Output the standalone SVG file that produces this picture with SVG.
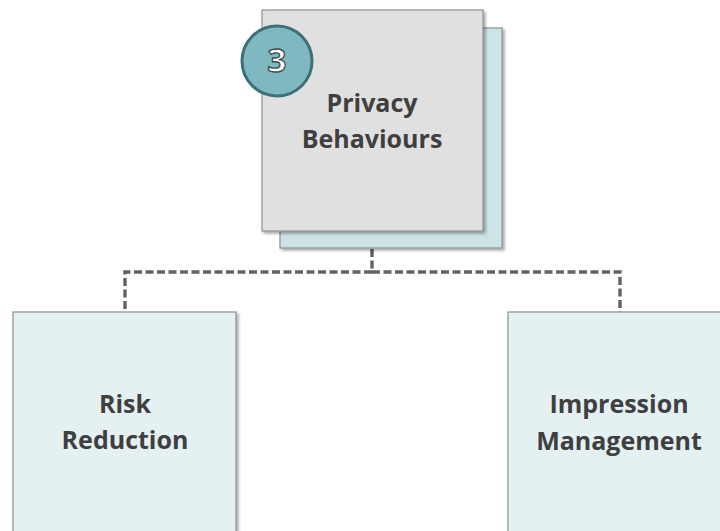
<svg xmlns="http://www.w3.org/2000/svg" width="720" height="531" viewBox="0 0 720 531">
  <style>
    .box { stroke: #8f8f8f; stroke-width: 1.2; filter: url(#shadow); }
    .main { fill: #e0e0e0; }
    .back { fill: #cde3e6; }
    .leaf { fill: #e4f0f2; }
    .label { font-family: "Open Sans", "Noto Sans", "Liberation Sans", sans-serif; font-weight: 700; font-size: 25px; fill: #3f3f3f; text-anchor: middle; }
    .link { fill: none; stroke: #626262; stroke-width: 3.4; stroke-dasharray: 8 3.5; }
    .badge { fill: #7fb8c1; stroke: #3d7076; stroke-width: 3; }
    .num { font-family: "Open Sans", "Noto Sans", "Liberation Sans", sans-serif; font-weight: 700; font-size: 33px; fill: #ffffff; stroke: #3a4a4c; stroke-width: 1.3; text-anchor: middle; }
  </style>
  <defs>
    <filter id="shadow" x="-10%" y="-10%" width="130%" height="130%">
      <feDropShadow dx="2" dy="2" stdDeviation="1.5" flood-color="#000000" flood-opacity="0.35"/>
    </filter>
  </defs>

  <rect width="720" height="531" fill="#ffffff"/>

  <g id="connectors">
    <path class="link" d="M372 249 V272 H125 V312"/>
    <path class="link" d="M372 272 H620 V312"/>
  </g>

  <g id="privacy-behaviours">
    <rect class="box back" x="280" y="28" width="222" height="220"/>
    <rect class="box main" x="262" y="10" width="221" height="221"/>
    <text class="label" x="372" y="112">Privacy</text>
    <text class="label" x="372" y="148">Behaviours</text>
  </g>

  <g id="badge-3">
    <circle class="badge" cx="277" cy="61" r="35"/>
    <text class="num" x="277" y="72">3</text>
  </g>

  <g id="risk-reduction">
    <rect class="box leaf" x="13" y="312" width="223" height="240"/>
    <text class="label" x="125" y="413">Risk</text>
    <text class="label" x="125" y="449">Reduction</text>
  </g>

  <g id="impression-management">
    <rect class="box leaf" x="508" y="312" width="240" height="240"/>
    <text class="label" x="619" y="413">Impression</text>
    <text class="label" x="619" y="450">Management</text>
  </g>
</svg>
